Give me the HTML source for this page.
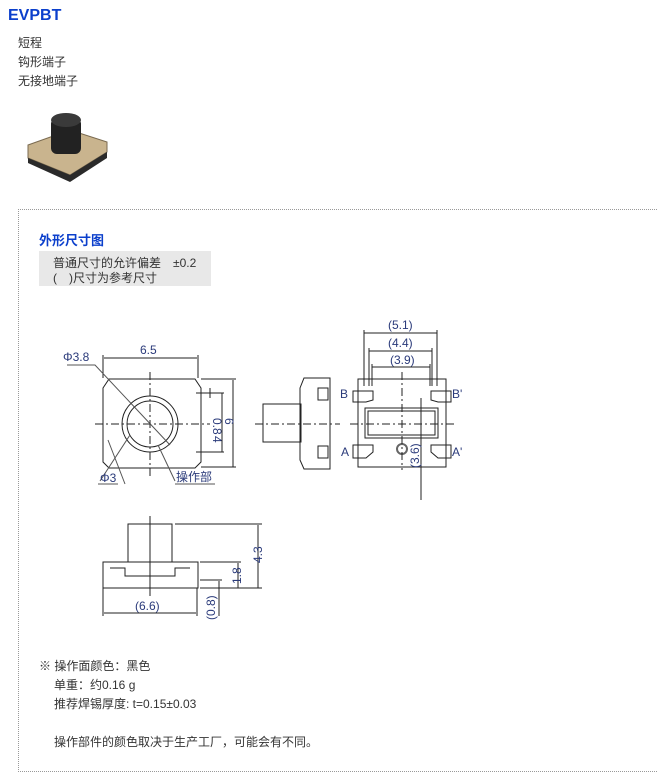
<!DOCTYPE html>
<html><head><meta charset="utf-8"><style>
body{margin:0;width:657px;height:773px;background:#fff;font-family:"Liberation Sans","Noto Sans CJK SC",sans-serif;position:relative;overflow:hidden}
.t{position:absolute;font-size:12px;color:#333;white-space:nowrap}
</style></head><body>
<div class="t" style="left:8px;top:7px;font-size:16px;font-weight:bold;color:#0b3fcc">EVPBT</div>
<div class="t" style="left:18px;top:34px">短程</div>
<div class="t" style="left:18px;top:53px">钩形端子</div>
<div class="t" style="left:18px;top:72px">无接地端子</div>
<svg style="position:absolute;left:25px;top:110px" width="85" height="75">
<polygon points="3,35 45,20 82,32 82,42 45,65 3,48" fill="#c9b48e" stroke="#7a6a50"/>
<polygon points="3,48 45,65 82,42 82,48 45,72 3,53" fill="#2a2a2a"/>
<rect x="26" y="8" width="30" height="36" rx="6" fill="#222"/>
<ellipse cx="41" cy="10" rx="15" ry="7" fill="#3a3a3a"/>
</svg>
<div style="position:absolute;left:18px;top:209px;width:650px;height:561px;border-left:1px dotted #999;border-top:1px dotted #999;border-bottom:1px dotted #999"></div>
<div class="t" style="left:39px;top:230px;font-size:13px;font-weight:bold;color:#0b3fcc">外形尺寸图</div>
<div style="position:absolute;left:39px;top:251px;width:172px;height:35px;background:#e8e8e8"></div>
<div class="t" style="left:53px;top:254px">普通尺寸的允许偏差　±0.2</div>
<div class="t" style="left:53px;top:269px">(　)尺寸为参考尺寸</div>
<svg style="position:absolute;left:0;top:0" width="657" height="773" font-family="Liberation Sans, Noto Sans CJK SC, sans-serif" font-size="12" fill="none" stroke="#222" stroke-width="1">
<!-- front view -->
<path d="M103,388 L109,379 L195,379 L201,388 L201,462 L195,468 L109,468 L103,462 Z"/>
<circle cx="150" cy="424" r="28"/><circle cx="150" cy="424" r="23"/>
<path d="M150,372 V476 M95,424 H210" stroke-dasharray="8,3,2,3"/>
<path d="M103,378 V355 M198,378 V355 M104,358 H197 M201,379 H236 M201,467 H236 M233,380 V467 M222,393 V452 M210,388 V398 M196,393 H224 M196,452 H224"/>
<path d="M67,365 H95 L170,445 M100,481 L130,435 M125,484 L108,440 M175,481 L158,445 M175,484 H215 M98,484 H118" stroke="#555"/>
<g fill="#2a3a7a" stroke="none">
<text x="140" y="354">6.5</text><text x="63" y="361">Φ3.8</text><text x="100" y="482">Φ3</text><text x="176" y="481">操作部</text>
<text transform="translate(213,418) rotate(90)">0.8</text><text transform="translate(213,418) rotate(90)" dx="18">4</text><text transform="translate(225,418) rotate(90)">6</text>
</g>
<!-- side view -->
<rect x="263" y="404" width="38" height="38"/>
<path d="M300,388 L304,378 L330,378 L330,469 L304,469 L300,460 Z M318,388 H328 V400 H318 Z M318,446 H328 V458 H318 Z"/>
<path d="M255,424 H340" stroke-dasharray="8,3,2,3"/>
<!-- right view -->
<rect x="358" y="379" width="88" height="88"/>
<rect x="365" y="408" width="73" height="30"/><rect x="368" y="411" width="67" height="24"/>
<path d="M353,391 H373 V400 L366,402 H353 Z M451,391 H431 V400 L438,402 H451 Z M353,445 H373 V452 L366,458 H353 Z M451,445 H431 V452 L438,458 H451 Z"/>
<circle cx="402" cy="449" r="5" stroke="#666" stroke-width="2"/>
<path d="M402,372 V470 M350,424 H455" stroke-dasharray="8,3,2,3"/>
<path d="M364,330 V386 M437,330 V386 M369,348 V386 M432,348 V386 M372,364 V386 M430,364 V386 M364,333 H437 M369,351 H432 M372,367 H430 M421,398 V500"/>
<g fill="#2a3a7a" stroke="none">
<text x="388" y="329">(5.1)</text><text x="388" y="347">(4.4)</text><text x="390" y="364">(3.9)</text>
<text x="340" y="398">B</text><text x="452" y="398">B'</text><text x="341" y="456">A</text><text x="452" y="456">A'</text>
<text transform="translate(419,468) rotate(-90)">(3.6)</text>
</g>
<!-- bottom view -->
<rect x="128" y="524" width="44" height="38"/>
<path d="M103,562 H198 V588 H103 Z M110,568 H125 V576 H175 V568 H190 M150,516 V596"/>
<path d="M175,524 H262 M200,562 H241 M200,588 H262 M258,525 V588 M238,563 V588 M200,580 H222 M219,581 V616 M103,588 V616 M197,588 V616 M104,613 H196"/>
<g fill="#2a3a7a" stroke="none">
<text x="135" y="610">(6.6)</text>
<text transform="translate(262,563) rotate(-90)">4.3</text><text transform="translate(241,584) rotate(-90)">1.8</text><text transform="translate(215,620) rotate(-90)">(0.8)</text>
</g>
</svg>
<div class="t" style="left:39px;top:657px">※ 操作面颜色：黑色</div>
<div class="t" style="left:54px;top:676px">单重：约0.16 g</div>
<div class="t" style="left:54px;top:695px">推荐焊锡厚度: t=0.15±0.03</div>
<div class="t" style="left:54px;top:733px">操作部件的颜色取决于生产工厂，可能会有不同。</div>
</body></html>
